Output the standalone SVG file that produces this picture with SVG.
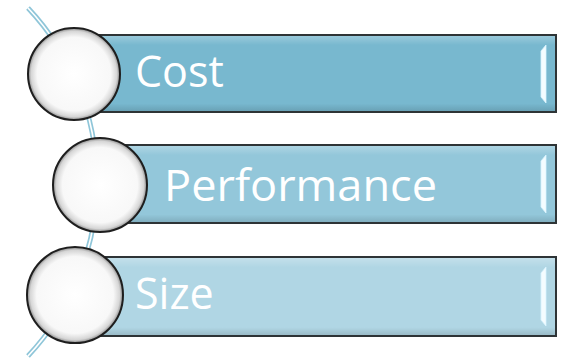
<svg xmlns="http://www.w3.org/2000/svg" width="562" height="364" viewBox="0 0 562 364">
  <style>
    .bar { stroke: #2e3436; stroke-width: 2; }
    .ball { fill: url(#ballGrad); stroke: #1e1e1e; stroke-width: 2; }
    .label { font-family: "Open Sans", "Liberation Sans", sans-serif; font-size: 43px; fill: #ffffff; }
    .shine { fill: #f4fcff; stroke: #d8f4ff; stroke-width: 0.8; }
  </style>
  <defs>
    <radialGradient id="ballGrad" cx="50%" cy="50%" r="50%">
      <stop offset="0" stop-color="#ffffff"/>
      <stop offset="0.8" stop-color="#f8f8f8"/>
      <stop offset="0.93" stop-color="#d6d6d6"/>
      <stop offset="1" stop-color="#8a8a8a"/>
    </radialGradient>
    <linearGradient id="barGloss" x1="0" y1="0" x2="0" y2="1">
      <stop offset="0" stop-color="#ffffff" stop-opacity="0.25"/>
      <stop offset="0.12" stop-color="#ffffff" stop-opacity="0"/>
      <stop offset="0.9" stop-color="#000000" stop-opacity="0"/>
      <stop offset="1" stop-color="#000000" stop-opacity="0.12"/>
    </linearGradient>
  </defs>

  <!-- curved spine behind the items -->
  <g id="connectors">
    <path d="M28,8 A254,254 0 0 1 28,356" fill="none" stroke="#8fc6d9" stroke-width="5"/>
    <path d="M28,8 A254,254 0 0 1 28,356" fill="none" stroke="#ffffff" stroke-width="1.6"/>
  </g>

  <g id="item-cost">
    <rect class="bar" x="100" y="35" width="456" height="77" fill="#78b8cf"/>
    <rect x="101" y="36" width="454" height="75" fill="url(#barGloss)"/>
    <path class="shine" d="M546,45 L541,51 L541,97 L546,103 Z"/>
    <circle class="ball" cx="74" cy="74" r="46"/>
    <text class="label" x="135" y="87">Cost</text>
  </g>

  <g id="item-performance">
    <rect class="bar" x="124" y="145" width="432" height="78" fill="#93c7da"/>
    <rect x="125" y="146" width="430" height="76" fill="url(#barGloss)"/>
    <path class="shine" d="M546,155 L541,161 L541,207 L546,213 Z"/>
    <circle class="ball" cx="100" cy="185" r="47"/>
    <text class="label" x="164" y="201" textLength="273" lengthAdjust="spacingAndGlyphs">Performance</text>
  </g>

  <g id="item-size">
    <rect class="bar" x="100" y="257" width="456" height="79" fill="#b0d6e4"/>
    <rect x="101" y="258" width="454" height="77" fill="url(#barGloss)"/>
    <path class="shine" d="M546,267 L541,273 L541,320 L546,326 Z"/>
    <circle class="ball" cx="75" cy="295" r="48"/>
    <text class="label" x="135" y="309">Size</text>
  </g>
</svg>
